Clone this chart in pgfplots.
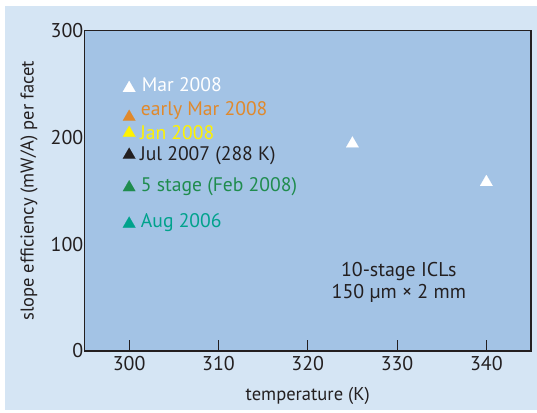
\documentclass[border=0pt]{standalone}
\usepackage{fontspec}
\setmainfont{PT Sans}
\usepackage{pgfplots}
\pgfplotsset{compat=1.18}
\definecolor{outerbg}{HTML}{D5E5F4}
\definecolor{plotbg}{HTML}{A3C3E5}
\definecolor{darktext}{HTML}{231F20}
\definecolor{orangeM}{HTML}{E0892C}
\definecolor{yellowM}{HTML}{FFF200}
\definecolor{greenM}{HTML}{1F8C4E}
\definecolor{tealM}{HTML}{00A28C}
\begin{document}
\begin{tikzpicture}[x=1bp,y=1bp]
\useasboundingbox (0,0) rectangle (537,412);
\fill[white] (0,0) rectangle (537,412);
\fill[outerbg] (5,2) rectangle (537,406);
\begin{axis}[
 at={(84.5bp,61bp)}, anchor=south west,
 scale only axis, width=446.5bp, height=320.5bp,
 xmin=295, xmax=345, ymin=0, ymax=300,
 axis background/.style={fill=plotbg},
 axis line style={darktext, line width=1.3bp},
 xtick={300,310,320,330,340}, ytick={0,100,200,300},
 xtick pos=bottom, ytick pos=left,
 tick align=inside,
 major tick length=11bp,
 y tick style={draw=none},
 x tick style={darktext, line width=1bp},
 tick label style={font=\fontsize{20}{20}\selectfont, text=darktext},
 yticklabel style={inner sep=1bp},
 xticklabel style={yshift=-2bp},
 /pgf/number format/assume math mode=true,
 xlabel={temperature (K)}, ylabel={slope efficiency (mW/A) per facet},
 label style={font=\fontsize{18.6}{18.6}\selectfont, text=darktext},
 xlabel style={at={(axis description cs:0.5,0)}, anchor=base, yshift=-49bp},
 ylabel style={at={(axis description cs:0,0.5)}, anchor=center, yshift=55.5bp},
 clip=false,
]
\addplot[only marks, mark=triangle*, mark size=7.3bp, mark options={fill=white, draw=white, line width=0.1bp}] coordinates {(300,246) (325,194) (340,158)};
\addplot[only marks, mark=triangle*, mark size=7.3bp, mark options={fill=orangeM, draw=orangeM, line width=0.1bp}] coordinates {(300,219)};
\addplot[only marks, mark=triangle*, mark size=7.3bp, mark options={fill=yellowM, draw=yellowM, line width=0.1bp}] coordinates {(300,204)};
\addplot[only marks, mark=triangle*, mark size=7.3bp, mark options={fill=darktext, draw=darktext, line width=0.1bp}] coordinates {(300,183.5)};
\addplot[only marks, mark=triangle*, mark size=7.3bp, mark options={fill=greenM, draw=greenM, line width=0.1bp}] coordinates {(300,153)};
\addplot[only marks, mark=triangle*, mark size=7.3bp, mark options={fill=tealM, draw=tealM, line width=0.1bp}] coordinates {(300,119)};
\begin{scope}[every node/.style={anchor=base west, inner sep=0pt, font=\fontsize{19.7}{19.7}\selectfont}]
\node[text=white] at (axis cs:301.4,242.5) {Mar 2008};
\node[text=orangeM] at (axis cs:301.3,220) {early Mar 2008};
\node[text=yellowM] at (axis cs:301.2,198) {Jan 2008};
\node[text=darktext] at (axis cs:301.2,178.5) {Jul 2007 (288 K)};
\node[text=greenM] at (axis cs:301.3,149) {5 stage (Feb 2008)};
\node[text=tealM] at (axis cs:301.3,115.5) {Aug 2006};
\end{scope}
\node[align=center, text=darktext, font=\fontsize{20}{21.5}\selectfont, anchor=base, inner sep=0pt] at (axis cs:330.2,49.6) {10-stage ICLs\\150 μm × 2 mm};
\end{axis}
\end{tikzpicture}
\end{document}
